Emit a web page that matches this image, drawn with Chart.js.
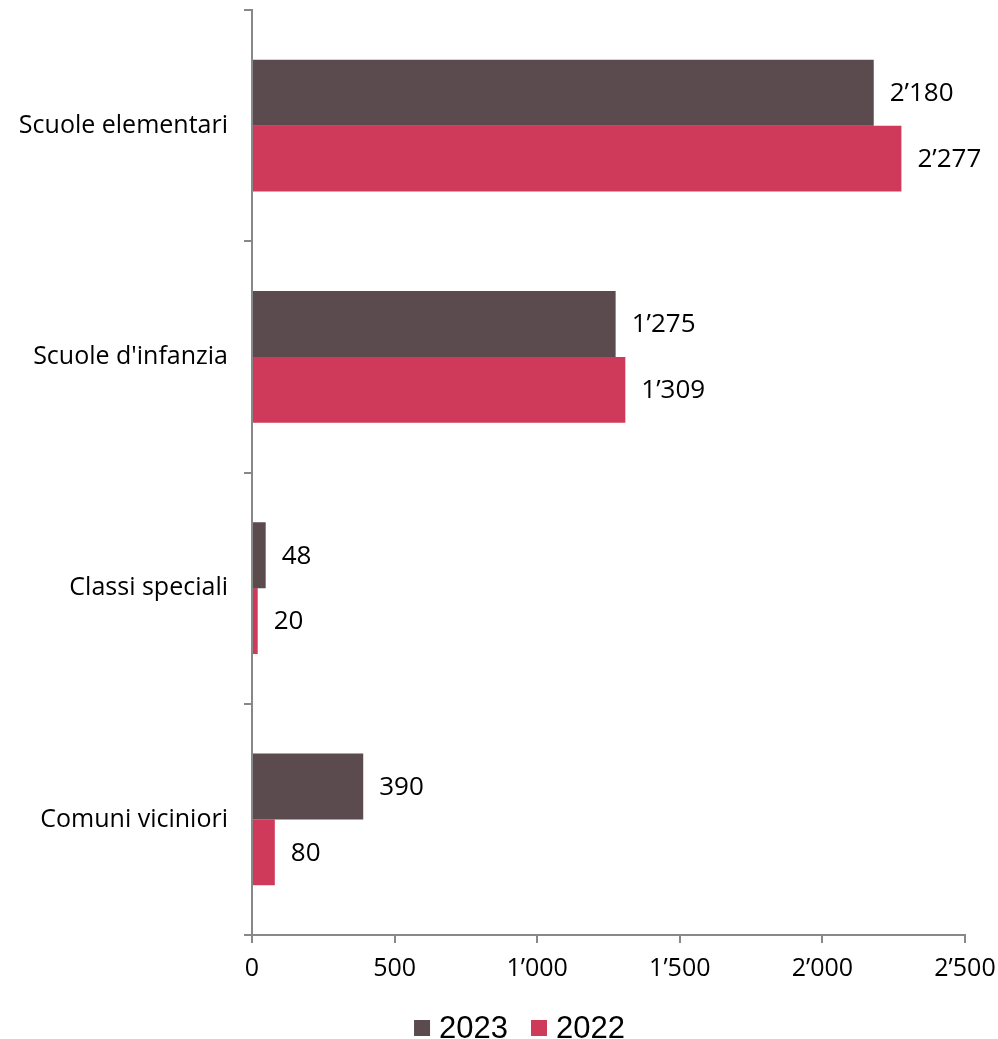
<!DOCTYPE html>
<html><head><meta charset="utf-8">
<script src="https://cdn.jsdelivr.net/npm/chart.js@4/dist/chart.umd.min.js"></script>
<style>html,body{margin:0;padding:0;background:#fff}#wrap{width:998px;height:1039px}</style>
</head><body><div id="wrap"><canvas id="c" width="998" height="1039"></canvas></div>
<script>
const categories = ["Scuole elementari", "Scuole d'infanzia", "Classi speciali", "Comuni viciniori"];
const values2023 = [2180, 1275, 48, 390];
const values2022 = [2277, 1309, 20, 80];
const seriesNames = ["2023", "2022"];
const xTicks = [0, 500, 1000, 1500, 2000, 2500];

const FONT = "'Open Sans', Lato, sans-serif";
function fmt(v){ return String(v).replace(/\B(?=(\d{3})+(?!\d))/g, "\u2019"); }

const labelPlugin = {
  id: 'barLabels',
  afterDatasetsDraw(chart){
    const ctx = chart.ctx;
    ctx.save();
    ctx.font = "26px " + FONT;
    ctx.fillStyle = "#000";
    ctx.textBaseline = "middle";
    ctx.textAlign = "left";
    chart.data.datasets.forEach((ds, i) => {
      const meta = chart.getDatasetMeta(i);
      meta.data.forEach((bar, j) => {
        ctx.fillText(fmt(ds.data[j]), bar.x + 16, bar.y + 1);
      });
    });
    ctx.restore();
  }
};

const legendPlugin = {
  id: 'bottomLegend',
  afterDraw(chart){
    const ctx = chart.ctx;
    ctx.save();
    ctx.font = "31px 'Liberation Sans', Arial, sans-serif";
    ctx.textBaseline = "middle";
    ctx.textAlign = "left";
    const box = 16, gap = 9, itemGap = 23;
    const items = chart.data.datasets.map(ds => ({ text: ds.label, color: ds.backgroundColor, w: ctx.measureText(ds.label).width }));
    const total = items.reduce((s, it) => s + box + gap + it.w, 0) + itemGap * (items.length - 1);
    let x = 519.5 - total / 2;
    const cy = 1028;
    items.forEach(it => {
      ctx.fillStyle = it.color;
      ctx.fillRect(x, cy - box / 2, box, box);
      ctx.fillStyle = "#000";
      ctx.fillText(it.text, x + box + gap, cy + 1);
      x += box + gap + it.w + itemGap;
    });
    ctx.restore();
  }
};

new Chart(document.getElementById('c'), {
  type: 'bar',
  data: {
    labels: categories,
    datasets: [
      { label: seriesNames[0], data: values2023, backgroundColor: '#5b4a4e', categoryPercentage: 0.57, barPercentage: 1.0 },
      { label: seriesNames[1], data: values2022, backgroundColor: '#cf3a5b', categoryPercentage: 0.57, barPercentage: 1.0 }
    ]
  },
  options: {
    indexAxis: 'y',
    responsive: false,
    animation: false,
    devicePixelRatio: 1,
    layout: { padding: { top: 10, right: 33, left: 0, bottom: 44 } },
    scales: {
      x: {
        min: 0, max: 2500,
        afterBuildTicks(axis){ axis.ticks = xTicks.map(v => ({ value: v })); },
        afterFit(axis){ axis.height = 60; axis.paddingLeft = 0; axis.paddingRight = 0; },
        border: { color: '#888', width: 2 },
        grid: { drawOnChartArea: false, drawTicks: true, tickLength: 8, color: '#888', lineWidth: 2 },
        ticks: { font: { family: FONT, size: 25 }, color: '#000', padding: 11, maxRotation: 0, callback: v => fmt(v) }
      },
      y: {
        afterFit(axis){ axis.width = 252; axis.paddingTop = 0; axis.paddingBottom = 0; },
        border: { color: '#888', width: 2 },
        grid: { drawOnChartArea: false, drawTicks: true, tickLength: 8, color: '#888', lineWidth: 2, offset: true },
        ticks: { font: { family: FONT, size: 25 }, color: '#000', padding: 16 }
      }
    },
    plugins: {
      legend: { display: false },
      tooltip: { enabled: false }
    }
  },
  plugins: [labelPlugin, legendPlugin]
});
</script></body></html>
